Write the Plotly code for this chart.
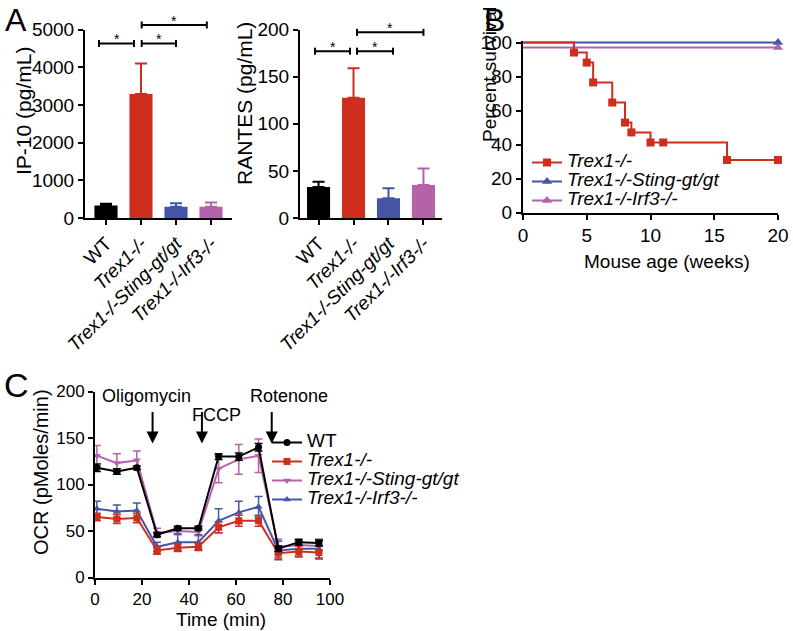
import plotly.graph_objects as go

W, H = 793, 631
FONT = "Liberation Sans, Arial, Helvetica, sans-serif"
RED = "#CE2E1E"
BLUE = "#4654A6"
PINK = "#B462AA"
BLACK = "#000000"

# ---------------- Panel A data ----------------
genotypes = ["WT", "Trex1-/-", "Trex1-/-Sting-gt/gt", "Trex1-/-Irf3-/-"]
genotype_italic = [False, True, True, True]
bar_colors = [BLACK, RED, BLUE, PINK]
ip10_mean = [330, 3290, 300, 300]
ip10_err = [50, 810, 90, 110]
rantes_mean = [33, 127.5, 21, 35]
rantes_err = [5.5, 31.5, 10.5, 17.5]

ip10_sig_x0 = [-0.2, 1.02, 1.02]
ip10_sig_x1 = [0.8, 2.0, 2.88]
ip10_sig_y = [4630, 4630, 5120]
rantes_sig_x0 = [-0.1, 1.1, 1.1]
rantes_sig_x1 = [0.9, 2.13, 3.0]
rantes_sig_y = [177, 177, 197]

# ---------------- Panel B data ----------------
km_trex1_t = [0, 4, 5, 5.5, 7, 8, 8.5, 10, 11, 16, 20]
km_trex1_s = [100, 94.1, 88.2, 76.5, 64.7, 52.9, 47.1, 41.2, 41.2, 30.9, 30.9]
km_sting_t = [0, 20]
km_sting_s = [100, 100]
km_irf3_t = [0, 20]
km_irf3_s = [97, 97]

# ---------------- Panel C data ----------------
ocr_time = [0.8, 9.3, 17.8, 26.4, 35.2, 44.0, 52.6, 61.2, 69.6, 78.0, 86.7, 95.3]
ocr_wt = [118, 114, 118, 46, 53, 53, 130, 130, 140, 31, 38, 37]
ocr_wt_err = [4, 3, 2, 2, 2, 2, 3, 4, 4, 3, 3, 3]
ocr_trex1 = [65, 63, 64, 29, 32, 33, 54, 61, 61, 26, 28, 27]
ocr_trex1_err = [4, 5, 5, 4, 4, 4, 6, 6, 6, 5, 6, 7]
ocr_sting = [131, 123, 126, 48, 50, 49, 117, 127, 131, 33, 35, 34]
ocr_sting_err = [11, 10, 10, 5, 4, 4, 15, 16, 18, 8, 5, 5]
ocr_irf3 = [74, 71, 72, 33, 38, 38, 61, 70, 76, 29, 31, 31]
ocr_irf3_err = [8, 7, 8, 5, 9, 8, 13, 12, 11, 10, 8, 10]

drug_names = ["Oligomycin", "FCCP", "Rotenone"]
drug_times = [24.5, 45.5, 75.2]
drug_arrow_tip = [144, 144, 144]
drug_label_x = [22, 51.8, 82.5]
drug_label_y = [195, 174.5, 195]


def px_x(p):
    return p / W


def px_y(p):
    return 1 - p / H


def leg_name(txt, italic=True, size=19):
    t = f"<i>{txt}</i>" if italic else txt
    return f'<span style="font-size:{size}px">{t}</span>'


fig = go.Figure()
positions = list(range(len(genotypes)))
ticktext = [f"<i>{g}</i>" if it else g for g, it in zip(genotypes, genotype_italic)]

# Panel A bars
for xa, ya, means, errs in [("x", "y", ip10_mean, ip10_err), ("x2", "y2", rantes_mean, rantes_err)]:
    for i in positions:
        fig.add_trace(go.Bar(
            x=[positions[i]], y=[means[i]], width=0.66,
            marker=dict(color=bar_colors[i], line=dict(width=0)),
            error_y=dict(type="data", symmetric=False, array=[errs[i]], arrayminus=[0],
                         color=bar_colors[i], thickness=2, width=6),
            xaxis=xa, yaxis=ya, showlegend=False))

# Panel B Kaplan-Meier
fig.add_trace(go.Scatter(
    x=km_sting_t[::-1], y=km_sting_s[::-1], mode="lines+markers", line=dict(color=BLUE, width=2, shape="hv"),
    marker=dict(symbol="triangle-up", size=9, color=[BLUE, "rgba(0,0,0,0)"]),
    name=leg_name("Trex1-/-Sting-gt/gt"), legendrank=2, legend="legend",
    xaxis="x3", yaxis="y3", cliponaxis=False))
fig.add_trace(go.Scatter(
    x=km_irf3_t[::-1], y=km_irf3_s[::-1], mode="lines+markers", line=dict(color=PINK, width=2, shape="hv"),
    marker=dict(symbol="triangle-up", size=9, color=[PINK, "rgba(0,0,0,0)"]),
    name=leg_name("Trex1-/-Irf3-/-"), legendrank=3, legend="legend",
    xaxis="x3", yaxis="y3", cliponaxis=False))
fig.add_trace(go.Scatter(
    x=km_trex1_t[:2], y=km_trex1_s[:2], mode="lines", line=dict(color=RED, width=2, shape="hv"),
    showlegend=False, xaxis="x3", yaxis="y3", cliponaxis=False))
fig.add_trace(go.Scatter(
    x=km_trex1_t[1:], y=km_trex1_s[1:], mode="lines+markers", line=dict(color=RED, width=2, shape="hv"),
    marker=dict(symbol="square", size=8, color=RED),
    name=leg_name("Trex1-/-"), legendrank=1, legend="legend",
    xaxis="x3", yaxis="y3", cliponaxis=False))

# Panel C OCR
for vals, errs, col, sym, nm, it, rank in [
    (ocr_sting, ocr_sting_err, PINK, "triangle-down", "Trex1-/-Sting-gt/gt", True, 3),
    (ocr_irf3, ocr_irf3_err, BLUE, "triangle-up", "Trex1-/-Irf3-/-", True, 4),
    (ocr_trex1, ocr_trex1_err, RED, "square", "Trex1-/-", True, 2),
    (ocr_wt, ocr_wt_err, BLACK, "circle", "WT", False, 1),
]:
    fig.add_trace(go.Scatter(
        x=ocr_time, y=vals, mode="lines+markers",
        line=dict(color=col, width=2),
        marker=dict(symbol=sym, size=7, color=col),
        error_y=dict(type="data", array=errs, color=col, thickness=1.5, width=4),
        name=leg_name(nm, it, 19), legendrank=rank, legend="legend2",
        xaxis="x4", yaxis="y4"))

axis_common = dict(showline=True, linewidth=2, linecolor="black", ticks="outside", ticklen=5,
                   tickwidth=2, tickcolor="black", showgrid=False, zeroline=False, automargin=False,
                   tickfont=dict(family=FONT, size=19, color="black"))

A_ydom = [px_y(218), px_y(29.5)]
fig.update_layout(
    template="none",
    width=W, height=H, margin=dict(l=0, r=0, t=0, b=0, pad=0, autoexpand=False),
    paper_bgcolor="white", plot_bgcolor="white",
    font=dict(family=FONT, color="black"),
    barmode="overlay",
    xaxis=dict(axis_common, domain=[px_x(85), px_x(232)], anchor="y", range=[-0.6, 3.6],
               tickvals=positions, ticktext=ticktext, tickangle=-45,
               tickfont=dict(family=FONT, size=19, color="black")),
    yaxis=dict(axis_common, domain=A_ydom, anchor="x", range=[0, 5000], dtick=1000),
    xaxis2=dict(axis_common, domain=[px_x(300), px_x(442)], anchor="y2", range=[-0.53, 3.53],
                tickvals=positions, ticktext=ticktext, tickangle=-45,
                tickfont=dict(family=FONT, size=19, color="black")),
    yaxis2=dict(axis_common, domain=A_ydom, anchor="x2", range=[0, 200], dtick=50),
    xaxis3=dict(axis_common, domain=[px_x(523), px_x(778)], anchor="y3", range=[0, 20], dtick=5),
    yaxis3=dict(axis_common, domain=[px_y(212.5), px_y(40.8)], anchor="x3", range=[0, 101],
                tickvals=[0, 20, 40, 60, 80, 100]),
    xaxis4=dict(axis_common, domain=[px_x(95), px_x(330)], anchor="y4", range=[0, 100], dtick=20,
                tickfont=dict(family=FONT, size=17, color="black")),
    yaxis4=dict(axis_common, domain=[px_y(577.5), px_y(391.5)], anchor="x4", range=[0, 200], dtick=50,
                tickfont=dict(family=FONT, size=17, color="black")),
    legend=dict(x=px_x(527), y=px_y(148), xanchor="left", yanchor="top",
                bgcolor="rgba(0,0,0,0)", font=dict(family=FONT, size=12, color="black"),
                tracegroupgap=0, itemwidth=30),
    legend2=dict(x=px_x(267), y=px_y(428), xanchor="left", yanchor="top",
                 bgcolor="rgba(0,0,0,0)", font=dict(family=FONT, size=12, color="black"),
                 tracegroupgap=0, itemwidth=30),
)

shapes = []
annotations = []


def add_brackets(xref, yref, x0s, x1s, ys, ymax, dom):
    dom_px = (dom[1] - dom[0]) * H
    cap = 3.5 / dom_px
    for x0, x1, yv in zip(x0s, x1s, ys):
        yd = yv / ymax
        shapes.append(dict(type="line", xref=xref, yref=yref + " domain", x0=x0, x1=x1, y0=yd, y1=yd,
                           line=dict(color="black", width=2)))
        for xc in (x0, x1):
            shapes.append(dict(type="line", xref=xref, yref=yref + " domain", x0=xc, x1=xc,
                               y0=yd - cap, y1=yd + cap, line=dict(color="black", width=2)))
        annotations.append(dict(text="*", xref=xref, yref=yref + " domain", x=(x0 + x1) / 2, y=yd,
                                showarrow=False, yanchor="middle", yshift=4,
                                font=dict(family=FONT, size=14, color="black")))


add_brackets("x", "y", ip10_sig_x0, ip10_sig_x1, ip10_sig_y, 5000, A_ydom)
add_brackets("x2", "y2", rantes_sig_x0, rantes_sig_x1, rantes_sig_y, 200, A_ydom)

# drug arrows and labels (panel C)
for nm, t, tip, lx, ly in zip(drug_names, drug_times, drug_arrow_tip, drug_label_x, drug_label_y):
    annotations.append(dict(text="", xref="x4", yref="y4", x=t, y=tip, ax=0, ay=-33,
                            showarrow=True, arrowhead=2, arrowsize=1.2, arrowwidth=2, arrowcolor="black"))
    annotations.append(dict(text=nm, xref="x4", yref="y4", x=lx, y=ly, showarrow=False,
                            font=dict(family=FONT, size=18, color="black")))


# axis titles & panel letters
def txt(text, x, y, size, angle=0, xanchor="center", yanchor="middle"):
    annotations.append(dict(text=text, xref="paper", yref="paper", x=px_x(x), y=px_y(y),
                            xanchor=xanchor, yanchor=yanchor, showarrow=False, textangle=angle,
                            font=dict(family=FONT, size=size, color="black")))


txt("IP-10 (pg/mL)", 23, 111, 21, -90)
txt("RANTES (pg/mL)", 245, 104, 21, -90)
txt("Percent survival", 489, 74, 19, -90)
txt("Mouse age (weeks)", 667, 261, 19)
txt("OCR (pMoles/min)", 41, 472, 20, -90)
txt("Time (min)", 221, 619, 19)
txt("A", 16, 0, 32, yanchor="top")
txt("B", 495, 0, 32, yanchor="top")
txt("C", 16, 385, 34)

fig.update_layout(shapes=shapes, annotations=annotations)
fig.write_html("out.html", config={"displayModeBar": False},
               post_script="document.body.style.margin='0px';")
